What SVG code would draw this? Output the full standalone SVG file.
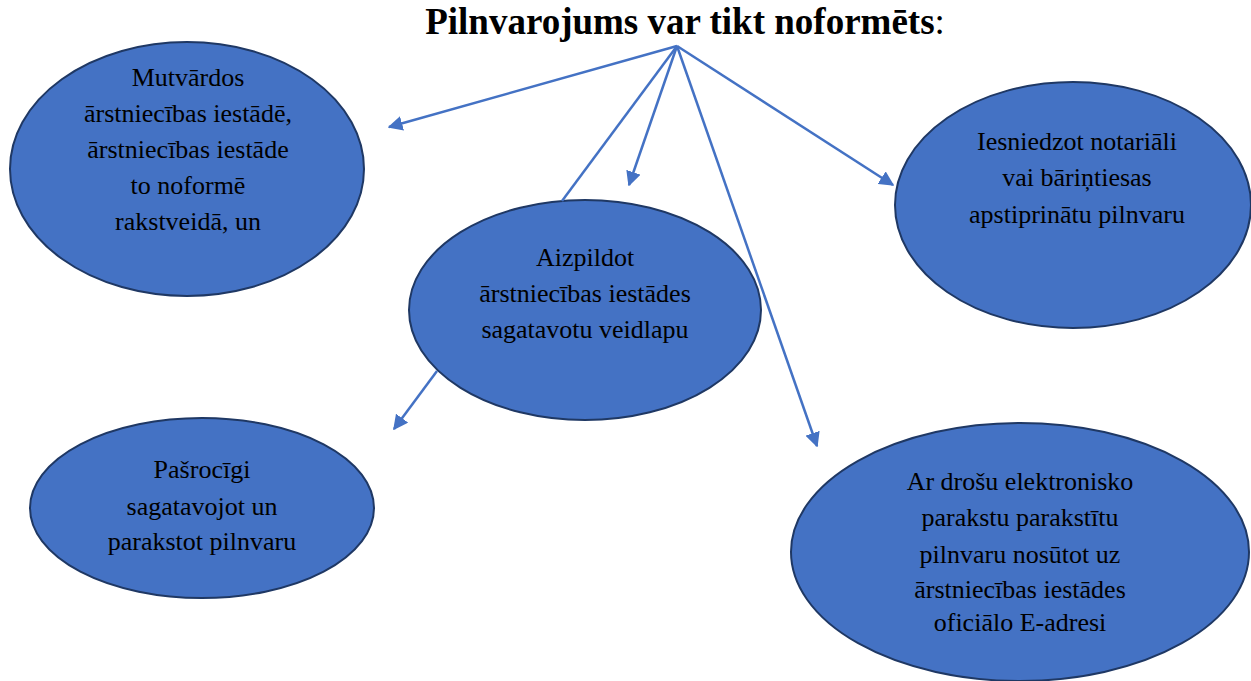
<svg xmlns="http://www.w3.org/2000/svg" width="1251" height="681" viewBox="0 0 1251 681">
<defs>
<style>
.node{fill:#4472C4;stroke:#1F3864;stroke-width:2}
.lbl{font-family:'Liberation Serif',serif;font-size:26px;fill:#000;text-anchor:middle}
.c{stroke:#4472C4;stroke-width:2.5;fill:none}
.title{font-family:'Liberation Serif',serif;font-size:37px;font-weight:bold;text-anchor:middle}
</style>
<marker id="ah" viewBox="0 0 10 10" refX="9" refY="5" markerWidth="6" markerHeight="6" markerUnits="strokeWidth" orient="auto">
<path d="M0,0 L10,5 L0,10 z" fill="#4472C4"/>
</marker>
</defs>
<rect width="1251" height="681" fill="#fff"/>
<text class="title" x="685" y="34">Pilnvarojums var tikt noformēts<tspan font-weight="normal">:</tspan></text>
<g id="n1"><ellipse class="node" cx="187" cy="169" rx="177" ry="127"/>
<text class="lbl" font-family="Liberation Serif, serif"><tspan x="188" y="86">Mutvārdos</tspan><tspan x="188" y="122">ārstniecības iestādē,</tspan><tspan x="188" y="158">ārstniecības iestāde</tspan><tspan x="188" y="194">to noformē</tspan><tspan x="188" y="230">rakstveidā, un</tspan></text></g>
<g id="n2"><ellipse class="node" cx="585" cy="310" rx="176" ry="110"/>
<text class="lbl" font-family="Liberation Serif, serif"><tspan x="585" y="266">Aizpildot</tspan><tspan x="585" y="302">ārstniecības iestādes</tspan><tspan x="585" y="338">sagatavotu veidlapu</tspan></text></g>
<g id="n3"><ellipse class="node" cx="1073" cy="205" rx="178" ry="123"/>
<text class="lbl" font-family="Liberation Serif, serif"><tspan x="1077" y="150">Iesniedzot notariāli</tspan><tspan x="1077" y="186">vai bāriņtiesas</tspan><tspan x="1077" y="223">apstiprinātu pilnvaru</tspan></text></g>
<g id="n4"><ellipse class="node" cx="1020" cy="552" rx="229" ry="129"/>
<text class="lbl" font-family="Liberation Serif, serif"><tspan x="1020" y="490">Ar drošu elektronisko</tspan><tspan x="1020" y="526">parakstu parakstītu</tspan><tspan x="1020" y="563">pilnvaru nosūtot uz</tspan><tspan x="1020" y="598">ārstniecības iestādes</tspan><tspan x="1020" y="631">oficiālo E-adresi</tspan></text></g>
<g id="n5"><ellipse class="node" cx="202" cy="508" rx="172" ry="90"/>
<text class="lbl" font-family="Liberation Serif, serif"><tspan x="202" y="478">Pašrocīgi</tspan><tspan x="202" y="515">sagatavojot un</tspan><tspan x="202" y="550">parakstot pilnvaru</tspan></text></g>
<g id="connectors">
<line class="c" x1="677" y1="46" x2="389" y2="127" marker-end="url(#ah)"/>
<line class="c" x1="677" y1="46" x2="562" y2="201"/>
<line class="c" x1="677" y1="46" x2="629" y2="185" marker-end="url(#ah)"/>
<line class="c" x1="677" y1="46" x2="817" y2="446" marker-end="url(#ah)"/>
<line class="c" x1="677" y1="46" x2="893" y2="185" marker-end="url(#ah)"/>
<line class="c" x1="437" y1="371" x2="394" y2="429" marker-end="url(#ah)"/>
</g>
</svg>
